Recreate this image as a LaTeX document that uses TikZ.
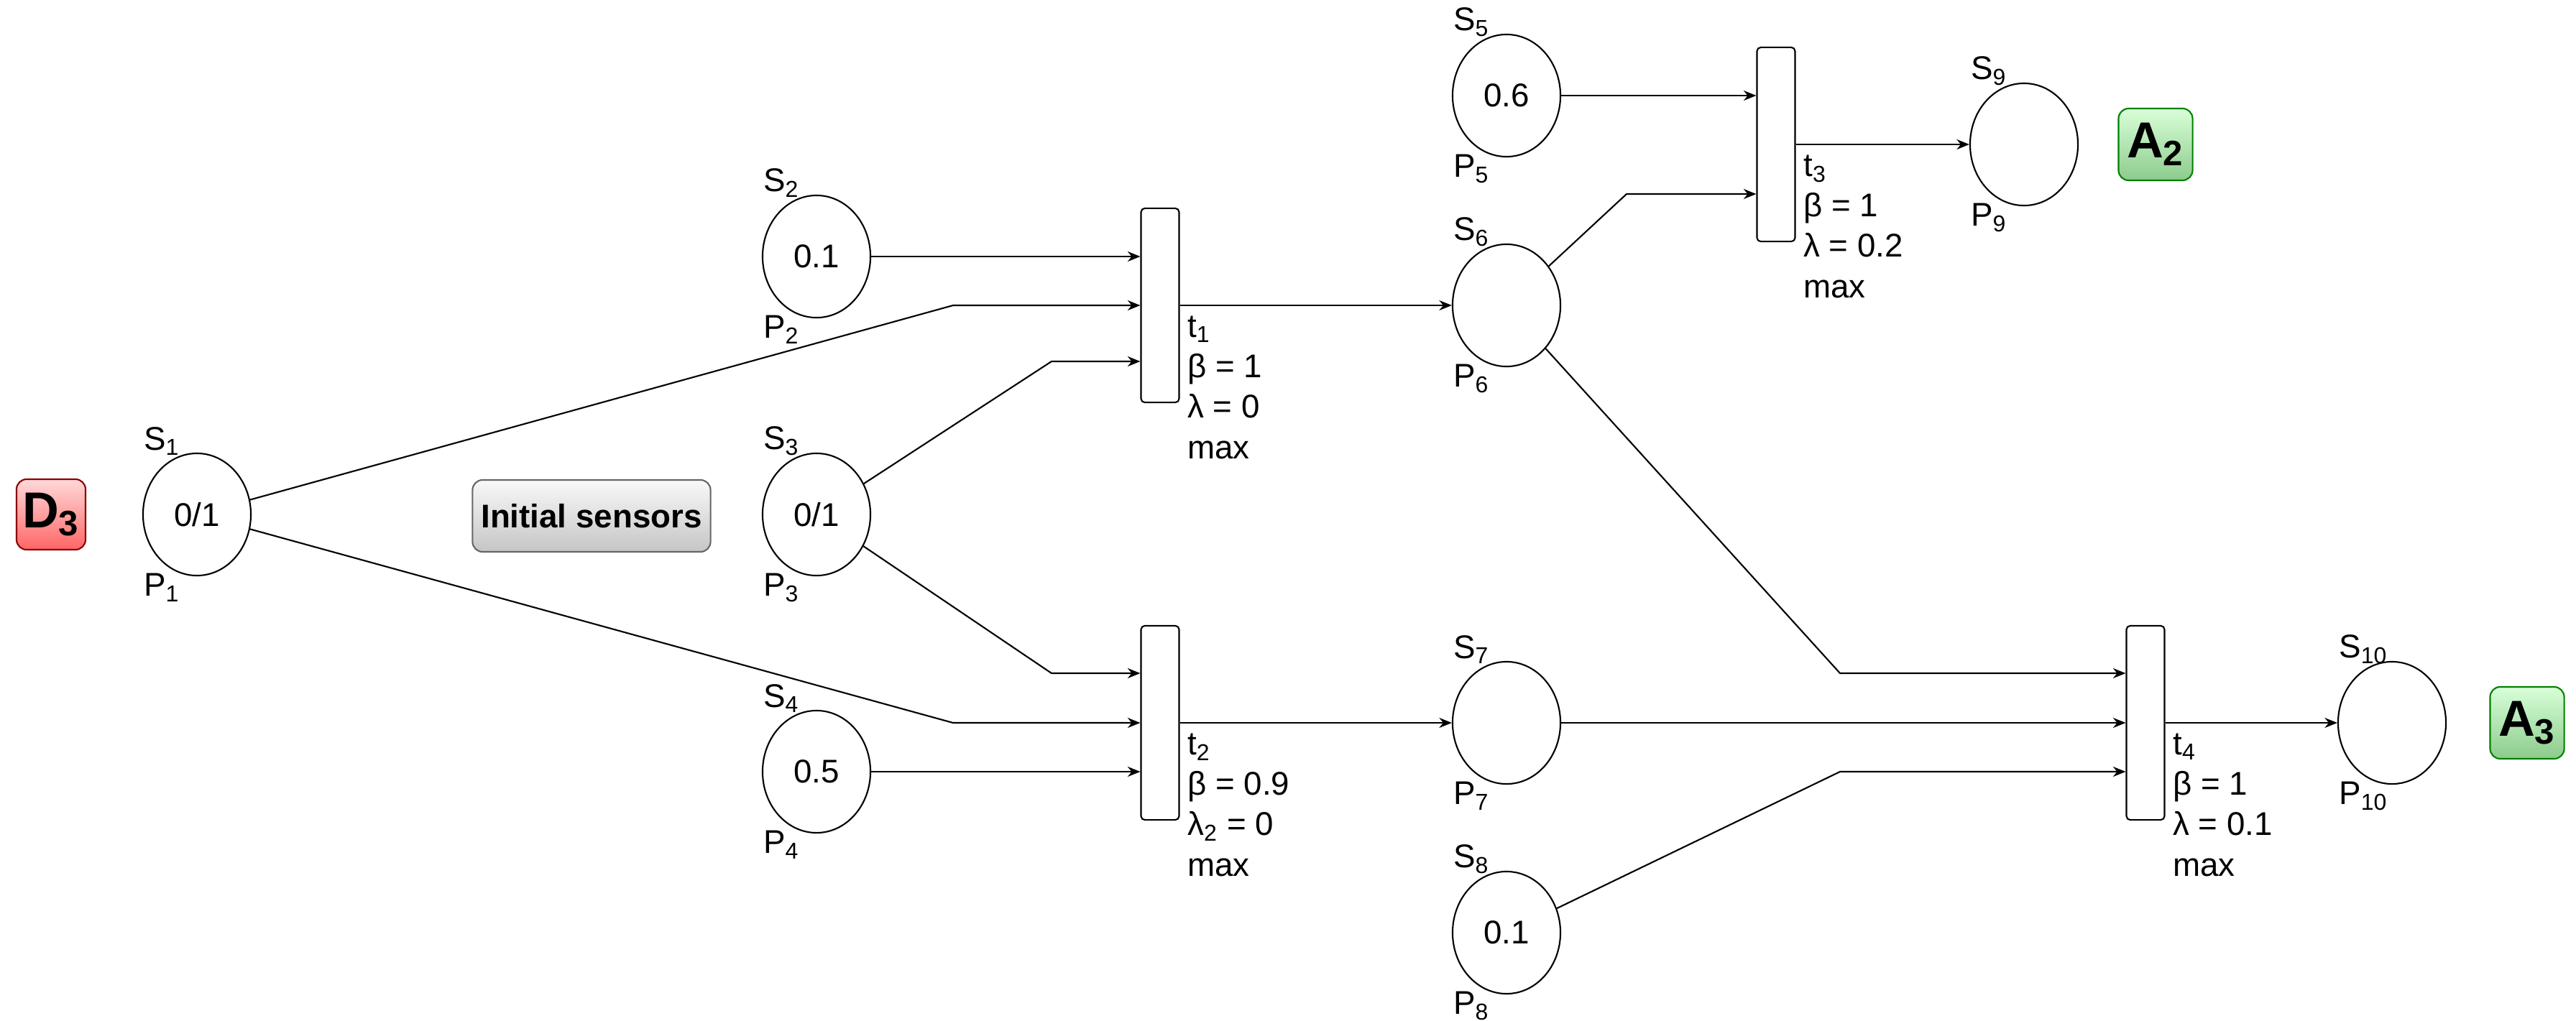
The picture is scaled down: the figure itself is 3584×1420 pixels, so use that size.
\documentclass[tikz,border=0pt]{standalone}
\usepackage{fontspec}
\setmainfont{Liberation Sans}
\usetikzlibrary{arrows.meta,shapes.geometric,calc}
\newcommand{\sbs}[1]{\textsubscript{#1}}
\begin{document}
\begin{tikzpicture}[x=0.01cm,y=-0.01cm,
  every node/.style={font=\fontsize{13}{16}\selectfont},
  pl/.style={ellipse,draw,line width=0.6pt,minimum width=1.5cm,minimum height=1.7cm,inner sep=0pt},
  tr/.style={draw,line width=0.6pt,rounded corners=1.5pt,minimum width=0.53cm,minimum height=2.7cm,inner sep=0pt},
  arr/.style={line width=0.6pt,-{Stealth[length=5pt,width=4pt]}},
  tl/.style={anchor=north west,align=left,inner sep=0pt,font=\fontsize{13}{16}\selectfont},
  box/.style={draw,rounded corners=4pt,line width=0.6pt,inner sep=0pt,font=\fontsize{20}{20}\selectfont\bfseries}]
\useasboundingbox (0,0) rectangle (3584,1420);
% boxes
\node[box,top color=red!15,bottom color=red!60!white,draw=red!55!black,minimum width=0.96cm,minimum height=0.98cm] (D3) at (71,716) {D\sbs{3}};
\node[box,top color=gray!5,bottom color=gray!45,draw=gray!80!black,minimum width=3.31cm,minimum height=1cm,font=\fontsize{13}{13}\selectfont\bfseries] (IS) at (823,718) {Initial sensors};
\node[box,top color=green!15!white,bottom color=green!55!black!45!white,draw=green!50!black,minimum width=1.03cm,minimum height=1cm] (A2) at (2999,201) {A\sbs{2}};
\node[box,top color=green!15!white,bottom color=green!55!black!45!white,draw=green!50!black,minimum width=1.03cm,minimum height=1cm] (A3) at (3516,1006) {A\sbs{3}};
% places
\foreach \n/\x/\y/\v in {1/274/716/0\slash 1,2/1136/357/0.1,3/1136/716/0\slash 1,4/1136/1074/0.5,5/2096/133/0.6,6/2096/425/,7/2096/1006/,8/2096/1298/0.1,9/2816/201/,10/3328/1006/}{
  \node[pl] (P\n) at (\x,\y) {\v};
  \node[anchor=south west,inner sep=1pt] (S\n lab) at ($(P\n)+(-78,-78)$) {S\sbs{\n}};
  \node[anchor=north west,inner sep=1pt] (P\n lab) at ($(P\n)+(-78,78)$) {P\sbs{\n}};
}
% transitions
\node[tr] (t1) at (1614,425) {};
\node[tr] (t2) at (1614,1006) {};
\node[tr] (t3) at (2471,201) {};
\node[tr] (t4) at (2985,1006) {};
\node[tl] (t1l) at ($(t1.east)+(10,14)$) {t\sbs{1}\\β = 1\\λ = 0\\max};
\node[tl] (t2l) at ($(t2.east)+(10,14)$) {t\sbs{2}\\β = 0.9\\λ\sbs{2} = 0\\max};
\node[tl] (t3l) at ($(t3.east)+(10,14)$) {t\sbs{3}\\β = 1\\λ = 0.2\\max};
\node[tl] (t4l) at ($(t4.east)+(10,14)$) {t\sbs{4}\\β = 1\\λ = 0.1\\max};
% bend coordinates
\coordinate (b1) at (1326,425);
\coordinate (b2) at (1463,503);
\coordinate (b3) at (1463,937);
\coordinate (b4) at (1326,1006);
\coordinate (b5) at (2263,270);
\coordinate (b6) at (2560,937);
\coordinate (b7) at (2560,1074);
% arcs
\draw[arr] (P2.east) -- (t1.west |- P2.east);
\draw[arr] (P1) -- (b1) -- (t1.west |- b1);
\draw[arr] (P3) -- (b2) -- (t1.west |- b2);
\draw[arr] (P3) -- (b3) -- (t2.west |- b3);
\draw[arr] (P1) -- (b4) -- (t2.west |- b4);
\draw[arr] (P4.east) -- (t2.west |- P4.east);
\draw[arr] (t1.east |- P6.west) -- (P6.west);
\draw[arr] (t2.east |- P7.west) -- (P7.west);
\draw[arr] (P5.east) -- (t3.west |- P5.east);
\draw[arr] (P6) -- (b5) -- (t3.west |- b5);
\draw[arr] (t3.east |- P9.west) -- (P9.west);
\draw[arr] (P6) -- (b6) -- (t4.west |- b6);
\draw[arr] (P7.east) -- (t4.west |- P7.east);
\draw[arr] (P8) -- (b7) -- (t4.west |- b7);
\draw[arr] (t4.east |- P10.west) -- (P10.west);
\end{tikzpicture}
\end{document}
